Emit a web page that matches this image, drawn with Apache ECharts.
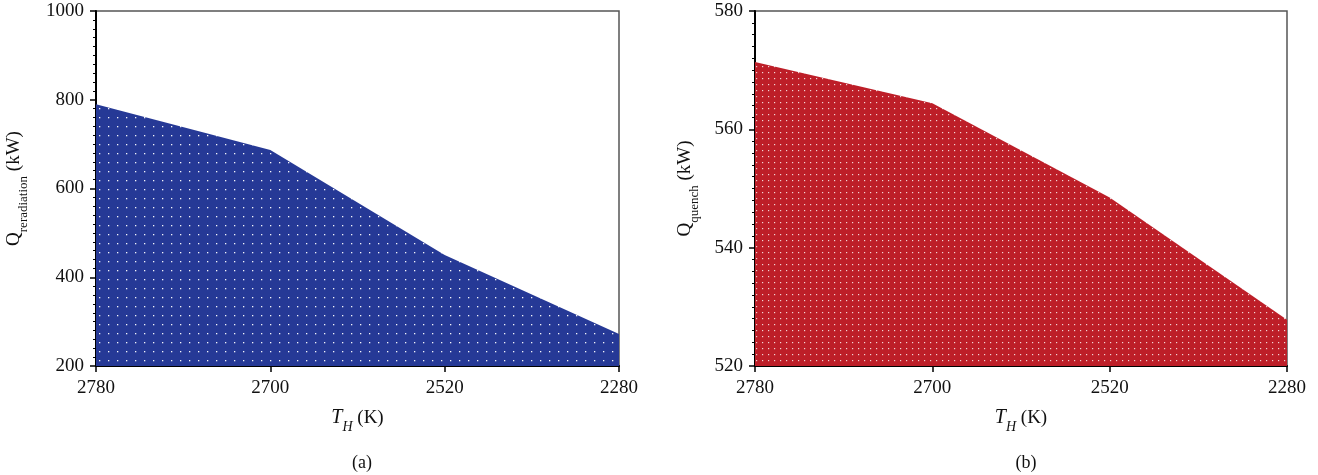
<!DOCTYPE html>
<html>
<head>
<meta charset="utf-8">
<script src="https://cdn.jsdelivr.net/npm/echarts@6/dist/echarts.min.js"></script>
<style>
html,body{margin:0;padding:0;background:#fff;}
#chart{width:1318px;height:475px;}
</style>
</head>
<body>
<div id="chart"></div>
<script>
// ---- data ----
const categories = ['2780', '2700', '2520', '2280'];
const qReradiation = [790, 687, 450, 272];
const qQuench = [571.4, 564.4, 548.5, 527.8];
const yTicksA = [200, 400, 600, 800, 1000];
const yTicksB = [520, 540, 560, 580];

function makePattern(bg, step, dot, alpha) {
  const c = document.createElement('canvas');
  c.width = step; c.height = step;
  const ctx = c.getContext('2d');
  ctx.fillStyle = bg;
  ctx.fillRect(0, 0, step, step);
  ctx.fillStyle = 'rgba(255,255,255,' + alpha + ')';
  ctx.fillRect(0, 0, dot, dot);
  return c;
}
const blueFill = makePattern('#263996', 9, 1.3, 0.95);
const redFill = makePattern('#bd1e28', 6, 1.2, 0.8);

const FONT = 'Liberation Serif';
const chart = echarts.init(document.getElementById('chart'), null, {renderer: 'canvas'});

function yAxisCfg(gridIndex, ticks, nameRich, gap) {
  return {
    type: 'value', gridIndex: gridIndex,
    min: ticks[0], max: ticks[ticks.length - 1],
    interval: ticks[1] - ticks[0],
    name: nameRich, nameLocation: 'middle', nameGap: gap, nameRotate: 90,
    nameTextStyle: {fontFamily: FONT, fontSize: 19, color: '#111',
      rich: {
        q: {fontFamily: FONT, fontSize: 19, color: '#111'},
        s: {fontFamily: FONT, fontSize: 13, color: '#111', verticalAlign: 'bottom', padding: [0, 0, -6, 0]}
      }},
    axisLine: {show: true, lineStyle: {color: '#000', width: 2}},
    axisTick: {show: true, length: 6, inside: false, lineStyle: {color: '#000', width: 1.5}},
    minorTick: {show: true, splitNumber: 10, length: 3, lineStyle: {color: '#000', width: 1}},
    axisLabel: {fontFamily: FONT, fontSize: 19, color: '#111', margin: 12, formatter: function (v) { return String(v); }},
    splitLine: {show: false}
  };
}
function xAxisCfg(gridIndex) {
  return {
    type: 'category', gridIndex: gridIndex, data: categories, boundaryGap: false,
    name: '{t|T}{h|H} {k|(K)}', nameLocation: 'middle', nameGap: 42,
    nameTextStyle: {fontFamily: FONT, fontSize: 19, color: '#111',
      rich: {
        t: {fontFamily: FONT, fontStyle: 'italic', fontSize: 20, color: '#111'},
        h: {fontFamily: FONT, fontStyle: 'italic', fontSize: 14, color: '#111', verticalAlign: 'bottom', padding: [0, 0, -6, 0]},
        k: {fontFamily: FONT, fontSize: 19, color: '#111'}
      }},
    axisLine: {show: true, lineStyle: {color: '#000', width: 2}},
    axisTick: {show: true, length: 6, alignWithLabel: true, lineStyle: {color: '#000', width: 1.5}},
    axisLabel: {fontFamily: FONT, fontSize: 19, color: '#111', margin: 13},
    splitLine: {show: false}
  };
}

chart.setOption({
  animation: false,
  backgroundColor: '#fff',
  title: [
    {text: '(a)', left: 357, top: 449, textAlign: 'center', textStyle: {fontFamily: FONT, fontSize: 18, fontWeight: 'normal', color: '#111'}},
    {text: '(b)', left: 1021, top: 449, textAlign: 'center', textStyle: {fontFamily: FONT, fontSize: 18, fontWeight: 'normal', color: '#111'}}
  ],
  grid: [
    {left: 96, right: 699, top: 11, bottom: 109, show: true, borderColor: '#555', borderWidth: 1.5, backgroundColor: 'transparent'},
    {left: 755, right: 31, top: 11, bottom: 109, show: true, borderColor: '#555', borderWidth: 1.5, backgroundColor: 'transparent'}
  ],
  xAxis: [xAxisCfg(0), xAxisCfg(1)],
  yAxis: [
    yAxisCfg(0, yTicksA, '{q|Q}{s|reradiation} {q|(kW)}', 72),
    yAxisCfg(1, yTicksB, '{q|Q}{s|quench} {q|(kW)}', 60)
  ],
  series: [
    {type: 'line', xAxisIndex: 0, yAxisIndex: 0, data: qReradiation, showSymbol: false,
      lineStyle: {width: 0}, areaStyle: {color: {image: blueFill, repeat: 'repeat'}, opacity: 1}, z: 1},
    {type: 'line', xAxisIndex: 1, yAxisIndex: 1, data: qQuench, showSymbol: false,
      lineStyle: {width: 0}, areaStyle: {color: {image: redFill, repeat: 'repeat'}, opacity: 1}, z: 1}
  ]
});
</script>
</body>
</html>
